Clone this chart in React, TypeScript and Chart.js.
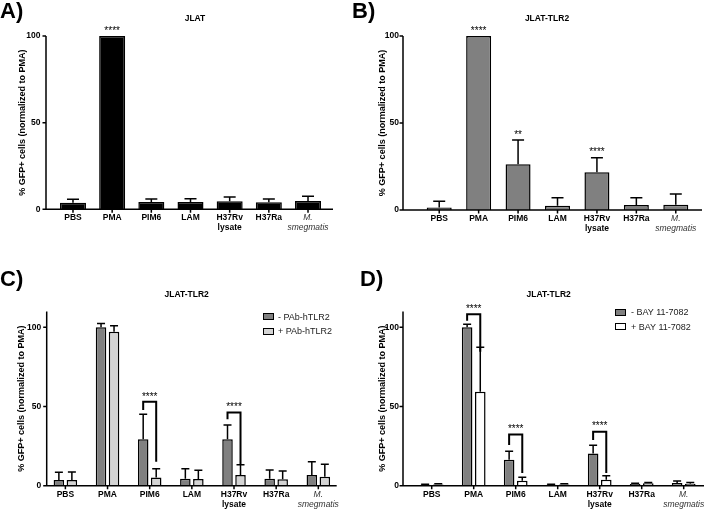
import React, { useEffect, useRef } from "react";
import { Chart, registerables } from "chart.js";
Chart.register(...registerables);

const FONT = "'Liberation Sans', Arial, Helvetica, sans-serif";

// ---------- data ----------
const categories: string[][] = [["PBS"], ["PMA"], ["PIM6"], ["LAM"], ["H37Rv", "lysate"], ["H37Ra"], ["M.", "smegmatis"]];
const yTickValues = [0, 50, 100];
const yAxisTitle = "% GFP+ cells (normalized to PMA)";

// Panel A – JLAT
const jlatMean = [3.8, 100, 4.2, 4.2, 4.6, 4.0, 4.8];
const jlatSem = [2.0, 0, 1.7, 1.9, 2.5, 1.9, 2.7];
const jlatStars = ["", "****", "", "", "", "", ""];

// Panel B – JLAT-TLR2
const tlr2Mean = [1.5, 100, 26.3, 2.5, 21.7, 2.9, 3.0];
const tlr2Sem = [3.5, 0, 13.9, 4.6, 8.4, 4.2, 6.2];
const tlr2Stars = ["", "****", "**", "", "****", "", ""];

// Panel C – JLAT-TLR2 +/- PAb-hTLR2
const pabLegend = ["- PAb-hTLR2", "+ PAb-hTLR2"];
const pabMinusMean = [3.6, 100, 29.3, 4.4, 29.3, 4.4, 6.8];
const pabMinusSem = [4.9, 2.5, 15.8, 6.3, 9.0, 5.5, 8.4];
const pabPlusMean = [3.6, 97.2, 5.1, 4.2, 6.8, 4.0, 5.7];
const pabPlusSem = [5.1, 3.8, 5.6, 5.5, 6.5, 5.3, 7.8];
const pabBrackets = [
  { category: 2, top: 53.0, leftEnd: 47.8, rightEnd: 15.2, label: "****" },
  { category: 4, top: 46.3, leftEnd: 41.9, rightEnd: 13.7, label: "****" },
];

// Panel D – JLAT-TLR2 +/- BAY 11-7082
const bayLegend = ["- BAY 11-7082", "+ BAY 11-7082"];
const bayMinusMean = [0.6, 100, 16.4, 0.6, 20.4, 1.1, 1.7];
const bayMinusSem = [0.3, 1.9, 5.3, 0.3, 5.1, 0.4, 1.3];
const bayPlusMean = [0.8, 59.3, 3.2, 0.8, 3.8, 1.5, 1.3];
const bayPlusSem = [0.4, 28.1, 2.1, 0.4, 2.5, 0.5, 0.7];
const bayBrackets = [
  { category: 1, top: 108.2, leftEnd: 104.2, rightEnd: 84.6, label: "****" },
  { category: 2, top: 32.4, leftEnd: 25.7, rightEnd: 8.0, label: "****" },
  { category: 4, top: 34.1, leftEnd: 28.9, rightEnd: 8.0, label: "****" },
];

// ---------- panel layout ----------
type Series = { mean: number[]; sem: number[]; fill: string };
type Bracket = { category: number; top: number; leftEnd: number; rightEnd: number; label: string };
type Panel = {
  letter: string; letterX: number; letterY: number;
  title: string; titleX: number; titleY: number;
  left: number; top: number; width: number; height: number;
  axisX: number; axisRight: number; labelGap: number;
  chartLeft: number; chartRight: number; chartTop: number; chartBottom: number;
  yMax: number; yTitleX: number;
  catPct: number; barPct: number; cap: number;
  series: Series[];
  stars?: string[];
  brackets?: Bracket[];
  legend?: { labels: string[]; boxX: number; textX: number; rows: number[] };
};

const panels: Panel[] = [
  {
    letter: "A)", letterX: 0, letterY: 11, title: "JLAT", titleX: 195, titleY: 17.7,
    left: 0, top: 0, width: 352, height: 255,
    axisX: 46, axisRight: 333, labelGap: 5.5, chartLeft: 53.4, chartRight: 327.6, chartTop: 36, chartBottom: 209.3,
    yMax: 100, yTitleX: 22.7, catPct: 0.664, barPct: 1, cap: 6,
    series: [{ mean: jlatMean, sem: jlatSem, fill: "#000000" }],
    stars: jlatStars,
  },
  {
    letter: "B)", letterX: 0, letterY: 11, title: "JLAT-TLR2", titleX: 195, titleY: 17.7,
    left: 352, top: 0, width: 370, height: 255,
    axisX: 51, axisRight: 350, labelGap: 4, chartLeft: 67.5, chartRight: 343.5, chartTop: 36, chartBottom: 210,
    yMax: 100, yTitleX: 31, catPct: 0.634, barPct: 1, cap: 6,
    series: [{ mean: tlr2Mean, sem: tlr2Sem, fill: "#808080" }],
    stars: tlr2Stars,
  },
  {
    letter: "C)", letterX: 0, letterY: 24, title: "JLAT-TLR2", titleX: 186.7, titleY: 39,
    left: 0, top: 255, width: 352, height: 255,
    axisX: 46.7, axisRight: 336.7, labelGap: 5.5, chartLeft: 44.3, chartRight: 339.4, chartTop: 56.5, chartBottom: 230.7,
    yMax: 110, yTitleX: 21.7, catPct: 0.617, barPct: 0.81, cap: 4,
    series: [
      { mean: pabMinusMean, sem: pabMinusSem, fill: "#808080" },
      { mean: pabPlusMean, sem: pabPlusSem, fill: "#d4d4d4" },
    ],
    brackets: pabBrackets,
    legend: { labels: pabLegend, boxX: 263, textX: 278, rows: [61.7, 76] },
  },
  {
    letter: "D)", letterX: 8, letterY: 24, title: "JLAT-TLR2", titleX: 196.7, titleY: 39,
    left: 352, top: 255, width: 370, height: 255,
    axisX: 51, axisRight: 370, labelGap: 4, chartLeft: 58.7, chartRight: 352.7, chartTop: 56.5, chartBottom: 230.7,
    yMax: 110, yTitleX: 31, catPct: 0.626, barPct: 0.806, cap: 4,
    series: [
      { mean: bayMinusMean, sem: bayMinusSem, fill: "#808080" },
      { mean: bayPlusMean, sem: bayPlusSem, fill: "#ffffff" },
    ],
    brackets: bayBrackets,
    legend: { labels: bayLegend, boxX: 263, textX: 279, rows: [57.3, 71.7] },
  },
];

function drawStars(ctx: CanvasRenderingContext2D, text: string, x: number, yCenter: number) {
  ctx.save();
  ctx.fillStyle = "#000";
  ctx.font = `10px ${FONT}`;
  ctx.textAlign = "center";
  ctx.textBaseline = "alphabetic";
  ctx.fillText(text, x, yCenter + 5.8);
  ctx.restore();
}

function decorPlugin(p: Panel) {
  return {
    id: "decor",
    afterDraw(chart: any) {
      const { ctx } = chart;
      const x = chart.scales.x;
      const y = chart.scales.y;
      const y0 = y.getPixelForValue(0);
      const yTop = y.getPixelForValue(p.yMax);
      ctx.save();
      ctx.strokeStyle = "#000";
      ctx.lineCap = "butt";
      // error bars
      ctx.lineWidth = 1.5;
      p.series.forEach((s, di) => {
        const meta = chart.getDatasetMeta(di);
        meta.data.forEach((el: any, i: number) => {
          const sem = s.sem[i];
          if (!sem) return;
          const ty = y.getPixelForValue(s.mean[i] + sem);
          ctx.beginPath();
          ctx.moveTo(el.x, el.y);
          ctx.lineTo(el.x, ty);
          ctx.moveTo(el.x - p.cap, ty);
          ctx.lineTo(el.x + p.cap, ty);
          ctx.stroke();
        });
      });
      // single-bar significance stars
      if (p.stars) {
        const meta = chart.getDatasetMeta(0);
        p.stars.forEach((st, i) => {
          if (!st) return;
          const s = p.series[0];
          const ty = y.getPixelForValue(s.mean[i] + s.sem[i]);
          drawStars(ctx, st, meta.data[i].x, ty - 8);
        });
      }
      // brackets
      if (p.brackets) {
        const m0 = chart.getDatasetMeta(0);
        const m1 = chart.getDatasetMeta(1);
        ctx.lineWidth = 2;
        ctx.lineJoin = "miter";
        p.brackets.forEach((b) => {
          const xl = m0.data[b.category].x;
          const xr = m1.data[b.category].x;
          const yt = y.getPixelForValue(b.top);
          ctx.beginPath();
          ctx.moveTo(xl, y.getPixelForValue(b.leftEnd));
          ctx.lineTo(xl, yt);
          ctx.lineTo(xr, yt);
          ctx.lineTo(xr, y.getPixelForValue(b.rightEnd));
          ctx.stroke();
          drawStars(ctx, b.label, (xl + xr) / 2, yt - 8);
        });
      }
      // axes
      ctx.lineWidth = 1.5;
      ctx.beginPath();
      ctx.moveTo(p.axisX, yTop);
      ctx.lineTo(p.axisX, y0);
      ctx.moveTo(p.axisX - 0.75, y0);
      ctx.lineTo(p.axisRight, y0);
      yTickValues.forEach((v) => {
        const py = y.getPixelForValue(v);
        ctx.moveTo(p.axisX - 3.5, py);
        ctx.lineTo(p.axisX, py);
      });
      categories.forEach((_, i) => {
        const px = x.getPixelForTick(i);
        ctx.moveTo(px, y0);
        ctx.lineTo(px, y0 + 3.5);
      });
      ctx.stroke();
      ctx.restore();
    },
  };
}

function PanelChart({ p }: { p: Panel }) {
  const ref = useRef<HTMLCanvasElement | null>(null);
  useEffect(() => {
    if (!ref.current) return;
    const chart = new Chart(ref.current, {
      type: "bar",
      data: {
        labels: categories,
        datasets: p.series.map((s) => ({
          data: s.mean,
          backgroundColor: s.fill,
          borderColor: "#000",
          borderWidth: 1.5,
          borderSkipped: "start",
          categoryPercentage: p.catPct,
          barPercentage: p.barPct,
        })),
      },
      options: {
        animation: false,
        responsive: false,
        maintainAspectRatio: false,
        devicePixelRatio: 1,
        events: [],
        layout: { padding: { left: 0, top: p.chartTop, right: p.width - p.chartRight, bottom: 0 } },
        plugins: { legend: { display: false }, tooltip: { enabled: false }, title: { display: false } },
        scales: {
          x: {
            type: "category",
            offset: true,
            grid: { display: false, drawTicks: false },
            border: { display: false },
            ticks: {
              padding: 3.5,
              maxRotation: 0,
              minRotation: 0,
              autoSkip: false,
              color: (c: any) => (c.index === 6 ? "#333" : "#000"),
              font: (c: any) =>
                c.index === 6
                  ? { family: FONT, size: 8.5, style: "italic", weight: "normal", lineHeight: 1.2 }
                  : { family: FONT, size: 8.5, weight: "bold", lineHeight: 1.2 },
            },
            afterFit: (s: any) => {
              s.height = p.height - p.chartBottom;
            },
          },
          y: {
            min: 0,
            max: p.yMax,
            grid: { display: false, drawTicks: false },
            border: { display: false },
            afterBuildTicks: (s: any) => {
              s.ticks = yTickValues.map((v) => ({ value: v }));
            },
            ticks: {
              padding: p.chartLeft - p.axisX + p.labelGap,
              color: "#000",
              font: { family: FONT, size: 8.5, weight: "bold" },
            },
            title: {
              display: true,
              text: yAxisTitle,
              color: "#000",
              font: { family: FONT, size: 9, weight: "bold", lineHeight: 1.2 },
              padding: { top: p.yTitleX - 5.4, bottom: 0 },
            },
            afterFit: (s: any) => {
              s.width = p.chartLeft;
            },
          },
        },
      } as any,
      plugins: [decorPlugin(p)],
    });
    return () => chart.destroy();
  }, [p]);

  const abs = (x: number, y: number, extra: any = {}) => ({
    position: "absolute" as const,
    left: p.left + x,
    top: p.top + y,
    whiteSpace: "nowrap" as const,
    lineHeight: 1,
    fontFamily: FONT,
    ...extra,
  });

  return (
    <>
      <canvas
        ref={ref}
        width={p.width}
        height={p.height}
        style={{ position: "absolute", left: p.left, top: p.top, width: p.width, height: p.height, display: "block" }}
      />
      <div style={abs(p.letterX, p.letterY, { fontSize: 22, fontWeight: "bold", transform: "translateY(-50%)", color: "#000" })}>
        {p.letter}
      </div>
      <div style={abs(p.titleX, p.titleY, { fontSize: 8.5, fontWeight: "bold", transform: "translate(-50%,-50%)", color: "#000" })}>
        {p.title}
      </div>
      {p.legend &&
        p.legend.labels.map((lab, k) => (
          <React.Fragment key={k}>
            <div
              style={abs(p.legend!.boxX, p.legend!.rows[k] - 3.5, {
                width: 11,
                height: 7,
                boxSizing: "border-box",
                border: "1.5px solid #000",
                background: p.series[k].fill,
              })}
            />
            <div style={abs(p.legend!.textX, p.legend!.rows[k], { fontSize: 9, transform: "translateY(-50%)", color: "#222" })}>
              {lab}
            </div>
          </React.Fragment>
        ))}
    </>
  );
}

export default function App() {
  return (
    <div
      style={{
        position: "fixed",
        left: 0,
        top: 0,
        width: 704,
        height: 510,
        overflow: "hidden",
        background: "#fff",
      }}
    >
      {panels.map((p, i) => (
        <PanelChart key={i} p={p} />
      ))}
    </div>
  );
}
